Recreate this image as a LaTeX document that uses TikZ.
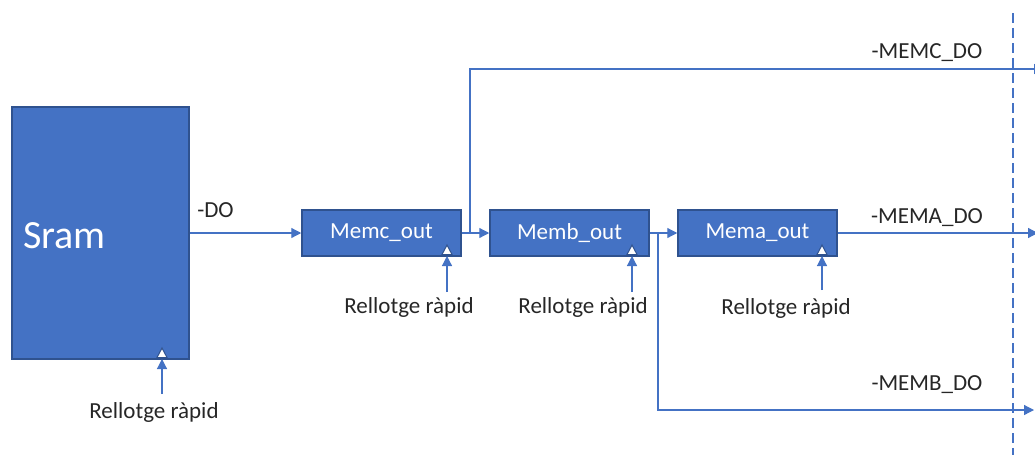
\documentclass[tikz,border=0pt]{standalone}
\usepackage{fontspec}
\setmainfont{Carlito}
\usetikzlibrary{arrows.meta}
\definecolor{blk}{HTML}{4472C4}
\definecolor{blkedge}{HTML}{2F528F}
\definecolor{wirec}{HTML}{4472C4}
\definecolor{ink}{HTML}{262626}
\tikzset{
  regbox/.style={draw=blkedge, line width=1.5pt, fill=blk, text=white,
    minimum width=159pt, minimum height=46pt, inner sep=0pt,
    font=\fontsize{23}{27}\selectfont},
  wire/.style={draw=wirec, line width=1.2pt},
  sig/.style={wire, -{Triangle[length=10pt,width=10pt]}},
  lbl/.style={text=ink, inner sep=0pt, anchor=base, font=\fontsize{23}{27}\selectfont},
  clk/.style={draw=blkedge, line width=1pt, fill=white},
  border/.style={wire, dash pattern=on 10pt off 5pt},
}
\begin{document}
\begin{tikzpicture}[x=1pt, y=-1pt]
  \useasboundingbox (0,0) rectangle (1035,455);
  \clip (0,0) rectangle (1035,455);

  % blocks
  \node[regbox, minimum width=177pt, minimum height=252pt] (sram) at (100.5,233) {};
  \node[text=white, inner sep=0pt, anchor=base west, font=\fontsize{40}{48}\selectfont] (sramtxt) at (23,248) {Sram};
  \node[regbox] (memc) at (381.5,233) {\raisebox{-1pt}{Memc\_out}};
  \node[regbox] (memb) at (569.5,233) {\raisebox{-1pt}{Memb\_out}};
  \node[regbox] (mema) at (757.5,233) {\raisebox{-1pt}{Mema\_out}};

  % clock inputs
  \coordinate (ck1) at (162,359);
  \coordinate (ck2) at (447,256);
  \coordinate (ck3) at (632,256);
  \coordinate (ck4) at (822,256);
  \foreach \c in {ck1,ck2,ck3,ck4}{
    \draw[clk] ([xshift=-5pt,yshift=1.5pt]\c) -- ([xshift=5pt,yshift=1.5pt]\c)
      -- ([yshift=11pt]\c) -- cycle;
  }
  \node[lbl] (clk1) at (154,418) {Rellotge ràpid};
  \node[lbl] (clk2) at (409,313) {Rellotge ràpid};
  \node[lbl] (clk3) at (583,313) {Rellotge ràpid};
  \node[lbl] (clk4) at (786,314) {Rellotge ràpid};
  \coordinate (ck1s) at (162,394);
  \coordinate (ck2s) at (447,292);
  \coordinate (ck3s) at (632,292);
  \coordinate (ck4s) at (822,290);
  \draw[sig] (ck1s) -- (ck1);
  \draw[sig] (ck2s) -- (ck2);
  \draw[sig] (ck3s) -- (ck3);
  \draw[sig] (ck4s) -- (ck4);

  % data path
  \draw[sig] (sram.east |- memc.west) -- (memc.west);
  \node[lbl] (dolbl) at (215.5,217) {-DO};
  \draw[sig] (memc.east) -- (memb.west);
  \draw[sig] (memb.east) -- (mema.west);

  % outputs
  \coordinate (j1) at (470,233);
  \coordinate (j2) at (658,233);
  \coordinate (outc) at (1044,69);
  \coordinate (outa) at (1038,233);
  \coordinate (outb) at (1034,410);
  \draw[sig] (j1) |- (outc);
  \draw[sig] (mema.east) -- (outa);
  \draw[sig] (j2) |- (outb);
  \node[lbl] (memclbl) at (927,58) {-MEMC\_DO};
  \node[lbl] (memalbl) at (927,223) {-MEMA\_DO};
  \node[lbl] (memblbl) at (927,390) {-MEMB\_DO};

  % boundary
  \coordinate (bd1) at (1013,13);
  \coordinate (bd2) at (1013,455);
  \draw[border] (bd1) -- (bd2);
\end{tikzpicture}
\end{document}
